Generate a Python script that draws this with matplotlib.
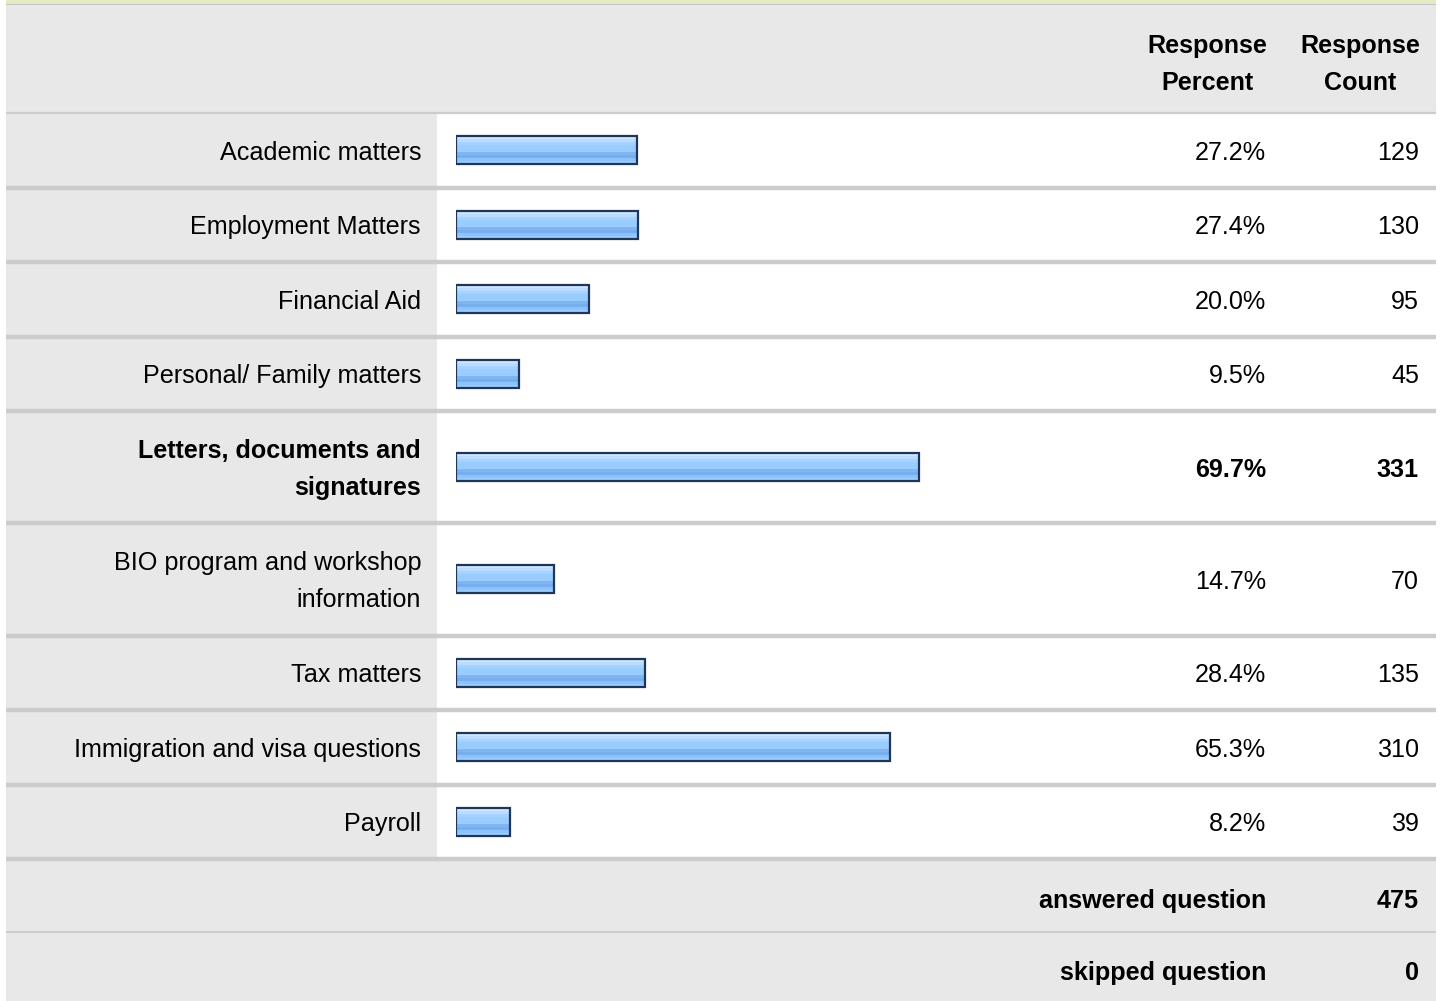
import numpy as np
import matplotlib.pyplot as plt
from matplotlib.patches import Rectangle
from matplotlib.colors import ListedColormap

plt.rcParams['font.family'] = ['Liberation Sans', 'DejaVu Sans']

# Survey results ---------------------------------------------------------------
labels = [
    'Academic matters', 'Employment Matters', 'Financial Aid',
    'Personal/ Family matters', 'Letters, documents and\nsignatures',
    'BIO program and workshop\ninformation', 'Tax matters',
    'Immigration and visa questions', 'Payroll',
]
percents = [27.2, 27.4, 20.0, 9.5, 69.7, 14.7, 28.4, 65.3, 8.2]
counts = [129, 130, 95, 45, 331, 70, 135, 310, 39]
answered = 475
skipped = 0

# Page geometry (pixels) -------------------------------------------------------
W, H = 1442, 1001
LEFT, RIGHT = 6, 1436
LABEL_W = 437
BAR_X0, BAR_100 = 456, 664
PCT_X, CNT_X = 1266, 1419
HEAD_TOP, HEAD_BOT = 5, 113
ROW_1, ROW_2 = 74.5, 112.3
FOOT_H = 72.5
GRAY, LINE = '#e8e8e8', '#cccccc'
FS = 18.1
LSP = 1.68
DY = 2.5  # baseline nudge for text

fig = plt.figure(figsize=(W / 100, H / 100), dpi=100)
fig.patch.set_facecolor('white')
ax = fig.add_axes([0, 0, 1, 1])
ax.set_xlim(0, W)
ax.set_ylim(H, 0)
ax.axis('off')

# top band and header
ax.add_patch(Rectangle((LEFT, 0), RIGHT - LEFT, 3.5, color='#e5eac3', lw=0))
ax.add_patch(Rectangle((LEFT, 3.5), RIGHT - LEFT, 1.8, color='#c4c4c4', lw=0))
ax.add_patch(Rectangle((LEFT, HEAD_TOP), RIGHT - LEFT, HEAD_BOT - HEAD_TOP,
                       color=GRAY, lw=0))
ax.text(1207, 62 + DY, 'Response\nPercent', ha='center', va='center',
        fontsize=FS, fontweight='bold', linespacing=LSP)
ax.text(1360, 62 + DY, 'Response\nCount', ha='center', va='center',
        fontsize=FS, fontweight='bold', linespacing=LSP)

# row bands
tops, centers, heights = [], [], []
y = HEAD_BOT
for lab in labels:
    h = ROW_2 if '\n' in lab else ROW_1
    tops.append(y)
    heights.append(h)
    centers.append(y + h / 2)
    y += h
foot_top = y

ax.plot([LEFT, RIGHT], [HEAD_BOT, HEAD_BOT], color=LINE, lw=1.6,
        solid_capstyle='butt')
top_row = int(np.argmax(percents))
for i, lab in enumerate(labels):
    t, h, c = tops[i], heights[i], centers[i]
    ax.add_patch(Rectangle((LEFT, t), LABEL_W - LEFT, h, color=GRAY, lw=0))
    wt = 'bold' if i == top_row else 'normal'
    ax.text(421, c + DY, lab, ha='right', va='center', fontsize=FS,
            fontweight=wt, linespacing=LSP)
    ax.text(PCT_X, c + DY, f'{percents[i]:.1f}%', ha='right', va='center',
            fontsize=FS, fontweight=wt)
    ax.text(CNT_X, c + DY, f'{counts[i]}', ha='right', va='center',
            fontsize=FS, fontweight=wt)
    ax.plot([LEFT, RIGHT], [t + h, t + h], color=LINE, lw=3.2,
            solid_capstyle='butt')

# footer
ax.add_patch(Rectangle((LEFT, foot_top + 1.6), RIGHT - LEFT, H - foot_top,
                       color=GRAY, lw=0, zorder=0))
ax.plot([LEFT, RIGHT], [foot_top + FOOT_H, foot_top + FOOT_H], color=LINE,
        lw=1.4, solid_capstyle='butt')
for k, (name, val) in enumerate([('answered question', answered),
                                 ('skipped question', skipped)]):
    cy = foot_top + FOOT_H * k + FOOT_H / 2 + 3 + DY
    ax.text(PCT_X, cy, name, ha='right', va='center', fontsize=FS,
            fontweight='bold')
    ax.text(CNT_X, cy, f'{val}', ha='right', va='center', fontsize=FS,
            fontweight='bold')

# bars: separate axes in percent units laid over the bar column
bx = fig.add_axes([BAR_X0 / W, 0, BAR_100 / W, 1])
bx.set_xlim(0, 100)
bx.set_ylim(H, 0)
bx.axis('off')
bx.patch.set_alpha(0)

stripes = ListedColormap(['#cfe6ff', '#bcdcff', '#a6d2ff', '#9acdff',
                          '#99ccff', '#7fb6f2', '#76aeee', '#8cc3ff',
                          '#99ccff'])
grad = np.arange(9).reshape(-1, 1)
BAR_H = 28
bars = bx.barh(centers, percents, height=BAR_H, facecolor='none',
               edgecolor='#1d365a', linewidth=1.6, zorder=3)
for p, c in zip(percents, centers):
    bx.imshow(grad, cmap=stripes, aspect='auto', interpolation='nearest',
              extent=(0, p, c + BAR_H / 2, c - BAR_H / 2), zorder=2)
bx.set_xlim(0, 100)
bx.set_ylim(H, 0)

fig.savefig('out.png', dpi=100, facecolor='white')
